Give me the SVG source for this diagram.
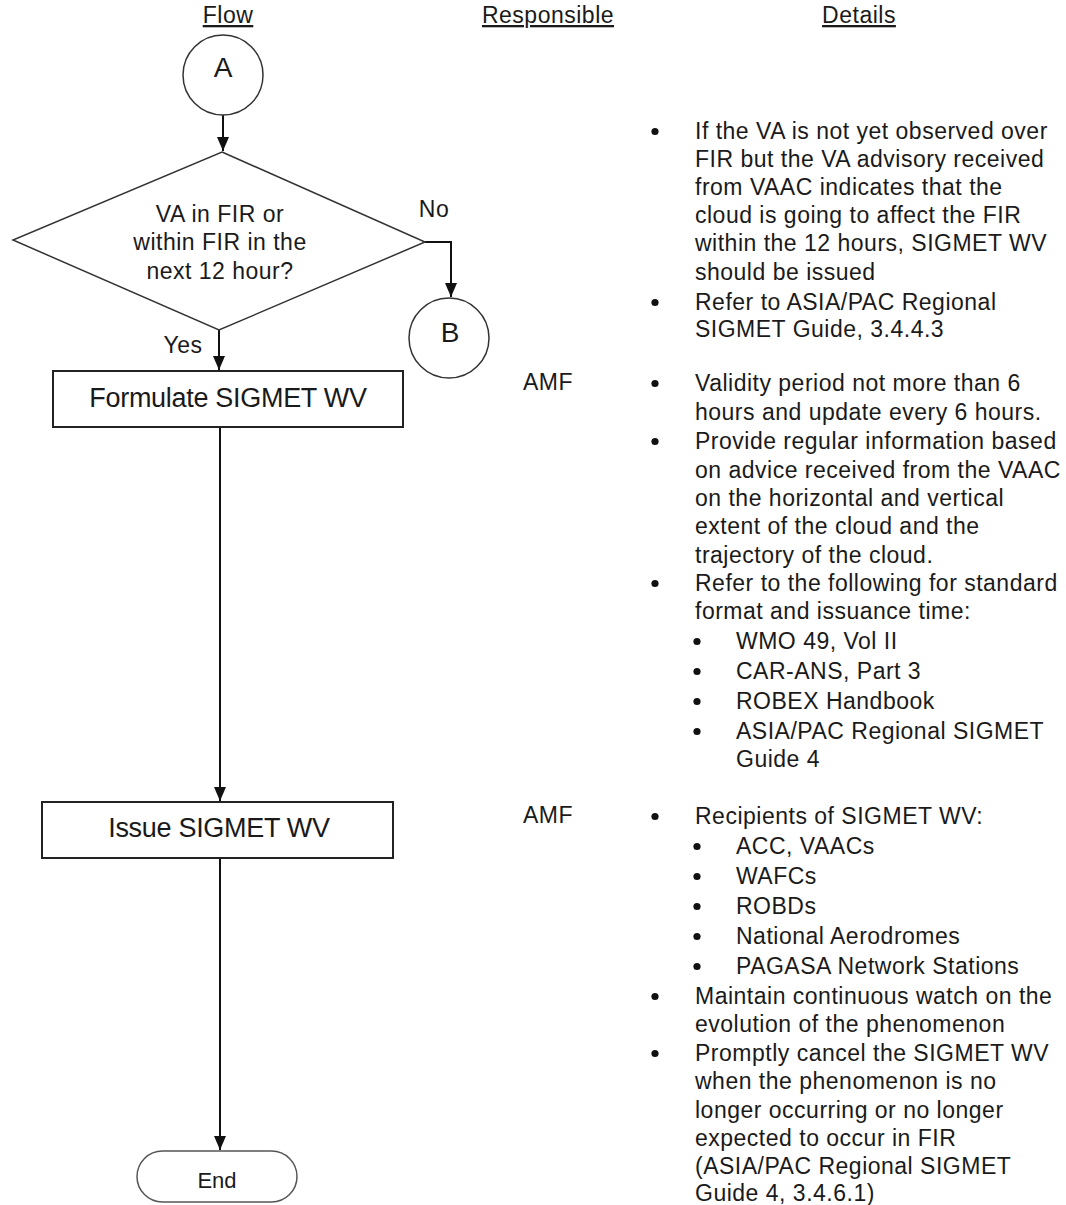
<svg xmlns="http://www.w3.org/2000/svg" width="1066" height="1205" viewBox="0 0 1066 1205">
<style>
text{font-family:"Liberation Sans",Arial,sans-serif;fill:#1a1a1a}
.t{font-size:23px;letter-spacing:0.5px}
.h{font-size:23px;letter-spacing:0.5px;text-decoration:underline;text-anchor:middle}
.c{text-anchor:middle}
.big{font-size:27px;letter-spacing:-0.3px;text-anchor:middle}
.shape{fill:#fff;stroke:#222;stroke-width:2}
.thin{fill:#fff;stroke:#333;stroke-width:1.5}
.conn{fill:none;stroke:#111;stroke-width:2}
.dot{fill:#111}
</style>
<defs>
<marker id="ah" markerUnits="userSpaceOnUse" markerWidth="14" markerHeight="14" viewBox="0 0 14 14" refX="14" refY="7" orient="auto">
<path d="M0,1 L14,7 L0,13 Z" fill="#111"/>
</marker>
</defs>

<g id="headers">
<text class="h" x="228" y="23">Flow</text>
<text class="h" x="548" y="23">Responsible</text>
<text class="h" x="859" y="23">Details</text>
</g>

<g id="connectors">
<path class="conn" d="M223,115 V151" marker-end="url(#ah)"/>
<path class="conn" d="M219,330 V370" marker-end="url(#ah)"/>
<path class="conn" d="M425,242 H451 V297" marker-end="url(#ah)"/>
<path class="conn" d="M220,427 V801" marker-end="url(#ah)"/>
<path class="conn" d="M220,858 V1150" marker-end="url(#ah)"/>
<text class="t c" x="434" y="217">No</text>
<text class="t c" x="183" y="353">Yes</text>
</g>

<g id="nodeA">
<circle class="thin" cx="223" cy="75" r="40"/>
<text class="c" x="223" y="77" font-size="28">A</text>
</g>

<g id="decision">
<polygon class="thin" points="222,152 425,242 219,330 13,240"/>
<text class="t c" x="220" y="222">VA in FIR or</text>
<text class="t c" x="220" y="250">within FIR in the</text>
<text class="t c" x="220" y="279">next 12 hour?</text>
</g>

<g id="nodeB">
<circle class="thin" cx="449" cy="338" r="40"/>
<text class="c" x="450" y="342" font-size="28">B</text>
</g>

<g id="formulate">
<rect class="shape" x="53" y="371" width="350" height="56"/>
<text class="big" x="228" y="407">Formulate SIGMET WV</text>
</g>

<g id="issue">
<rect class="shape" x="42" y="802" width="351" height="56"/>
<text class="big" x="219" y="837">Issue SIGMET WV</text>
</g>

<g id="end">
<rect x="137" y="1151" width="160" height="51" rx="25.5" fill="#fff" stroke="#555" stroke-width="1.5"/>
<text class="c" x="217" y="1188" font-size="22">End</text>
</g>

<g id="responsible">
<text class="t" x="523" y="390">AMF</text>
<text class="t" x="523" y="823">AMF</text>
</g>

<g id="bullets" class="dot">
<circle cx="655" cy="131.5" r="3.6"/>
<circle cx="655" cy="302.5" r="3.6"/>
<circle cx="655" cy="383.5" r="3.6"/>
<circle cx="655" cy="441.5" r="3.6"/>
<circle cx="655" cy="583.5" r="3.6"/>
<circle cx="697" cy="641.5" r="3.6"/>
<circle cx="697" cy="671.5" r="3.6"/>
<circle cx="697" cy="701.5" r="3.6"/>
<circle cx="697" cy="731.5" r="3.6"/>
<circle cx="655" cy="816.5" r="3.6"/>
<circle cx="697" cy="846.5" r="3.6"/>
<circle cx="697" cy="876.5" r="3.6"/>
<circle cx="697" cy="906.5" r="3.6"/>
<circle cx="697" cy="936.5" r="3.6"/>
<circle cx="697" cy="966.5" r="3.6"/>
<circle cx="655" cy="996.5" r="3.6"/>
<circle cx="655" cy="1053.5" r="3.6"/>
</g>

<g id="details">
<text class="t" x="695" y="138.5">If the VA is not yet observed over</text>
<text class="t" x="695" y="166.5">FIR but the VA advisory received</text>
<text class="t" x="695" y="194.5">from VAAC indicates that the</text>
<text class="t" x="695" y="222.5">cloud is going to affect the FIR</text>
<text class="t" x="695" y="250.5">within the 12 hours, SIGMET WV</text>
<text class="t" x="695" y="279.5">should be issued</text>
<text class="t" x="695" y="309.5">Refer to ASIA/PAC Regional</text>
<text class="t" x="695" y="336.5">SIGMET Guide, 3.4.4.3</text>

<text class="t" x="695" y="390.5">Validity period not more than 6</text>
<text class="t" x="695" y="419.5">hours and update every 6 hours.</text>
<text class="t" x="695" y="448.5">Provide regular information based</text>
<text class="t" x="695" y="477.5">on advice received from the VAAC</text>
<text class="t" x="695" y="505.5">on the horizontal and vertical</text>
<text class="t" x="695" y="533.5">extent of the cloud and the</text>
<text class="t" x="695" y="562.5">trajectory of the cloud.</text>
<text class="t" x="695" y="590.5">Refer to the following for standard</text>
<text class="t" x="695" y="618.5">format and issuance time:</text>
<text class="t" x="736" y="648.5">WMO 49, Vol II</text>
<text class="t" x="736" y="678.5">CAR-ANS, Part 3</text>
<text class="t" x="736" y="708.5">ROBEX Handbook</text>
<text class="t" x="736" y="738.5">ASIA/PAC Regional SIGMET</text>
<text class="t" x="736" y="766.5">Guide 4</text>

<text class="t" x="695" y="823.5">Recipients of SIGMET WV:</text>
<text class="t" x="736" y="853.5">ACC, VAACs</text>
<text class="t" x="736" y="883.5">WAFCs</text>
<text class="t" x="736" y="913.5">ROBDs</text>
<text class="t" x="736" y="943.5">National Aerodromes</text>
<text class="t" x="736" y="973.5">PAGASA Network Stations</text>
<text class="t" x="695" y="1003.5">Maintain continuous watch on the</text>
<text class="t" x="695" y="1031.5">evolution of the phenomenon</text>
<text class="t" x="695" y="1060.5">Promptly cancel the SIGMET WV</text>
<text class="t" x="695" y="1088.5">when the phenomenon is no</text>
<text class="t" x="695" y="1117.5">longer occurring or no longer</text>
<text class="t" x="695" y="1145.5">expected to occur in FIR</text>
<text class="t" x="695" y="1173.5">(ASIA/PAC Regional SIGMET</text>
<text class="t" x="695" y="1200.5">Guide 4, 3.4.6.1)</text>
</g>
</svg>
